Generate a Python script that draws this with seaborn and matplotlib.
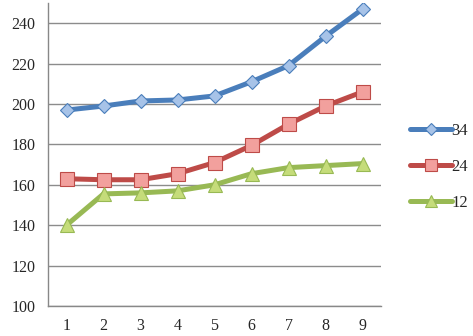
import matplotlib
matplotlib.use("Agg")
import matplotlib.pyplot as plt
import seaborn as sns
import numpy as np
import pandas as pd

# data
x_vals = [1, 2, 3, 4, 5, 6, 7, 8, 9]
s34 = [197, 199, 201.5, 202, 204, 211, 219, 233.5, 247]
s24 = [163, 162.5, 162.5, 165.5, 171, 179.5, 190, 199, 206]
s12 = [140, 155.5, 156, 157, 160, 165.5, 168.5, 169.5, 170.5]
labels = ["34", "24", "12"]

sns.set_style("white")
plt.rcParams['font.family'] = ['Liberation Serif', 'DejaVu Serif']

fig = plt.figure(figsize=(4.73, 3.36), dpi=100)
ax = fig.add_axes([48 / 473, 1 - 306 / 336, (381 - 48) / 473, (306 - 3) / 336])

styles = [
    (s34, "D", "#4a7ebb", "#a7c3e8", "#4a7ebb", 7.5),
    (s24, "s", "#be4b48", "#f2a09d", "#be4b48", 9.5),
    (s12, "^", "#98b954", "#c5dc7a", "#98b954", 9.5),
]
for (vals, mk, lc, fc, ec, ms), lab in zip(styles, labels):
    df = pd.DataFrame({"x": x_vals, "y": vals})
    sns.lineplot(data=df, x="x", y="y", ax=ax, color=lc, linewidth=3.6,
                 marker=mk, markersize=ms, markerfacecolor=fc,
                 markeredgecolor=ec, markeredgewidth=0.8, label=lab,
                 zorder=3)

ax.set_xlim(0.5, 9.5)
ax.set_ylim(100, 250)
ax.set_yticks(np.arange(100, 241, 20))
ax.set_xticks(x_vals)
ax.set_xticks(np.arange(0.5, 9.6, 1), minor=True)
ax.tick_params(axis="x", which="major", length=0, pad=9, labelsize=11.5)
ax.tick_params(axis="x", which="minor", length=5, color="#888888", width=1)
ax.tick_params(axis="y", length=5, color="#888888", width=1, pad=4, labelsize=11.5)
ax.yaxis.grid(True, color="#8c8c8c", linewidth=1)
ax.set_axisbelow(True)
for s in ["top", "right"]:
    ax.spines[s].set_visible(False)
for s in ["left", "bottom"]:
    ax.spines[s].set_color("#888888")
    ax.spines[s].set_linewidth(1)
ax.set_xlabel("")
ax.set_ylabel("")

leg = ax.legend(loc="center left", bbox_to_anchor=(1.087, 0.458), frameon=False,
                fontsize=12, handlelength=2.5, handletextpad=0.0,
                labelspacing=1.2, borderaxespad=0, borderpad=0, markerscale=0.85)

fig.savefig("out.png", dpi=100)
